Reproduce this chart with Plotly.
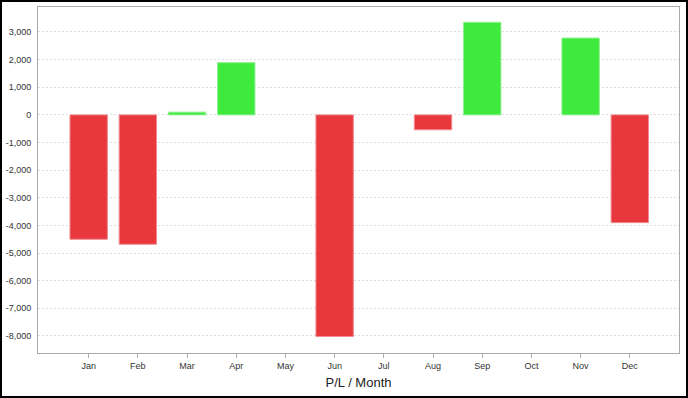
import plotly.graph_objects as go

months = ["Jan", "Feb", "Mar", "Apr", "May", "Jun", "Jul", "Aug", "Sep", "Oct", "Nov", "Dec"]
pl_values = [-4500, -4680, 100, 1890, None, -8020, None, -540, 3350, None, 2780, -3900]
y_tick_vals = [3000, 2000, 1000, 0, -1000, -2000, -3000, -4000, -5000, -6000, -7000, -8000]
y_tick_text = ["3,000", "2,000", "1,000", "0", "-1,000", "-2,000", "-3,000", "-4,000",
               "-5,000", "-6,000", "-7,000", "-8,000"]

RED = "#E8383D"
GREEN = "#3DEA3D"
colors = [GREEN if (v or 0) > 0 else RED for v in pl_values]
line_colors = ["#8FF08F" if (v or 0) > 0 else "#F08A8E" for v in pl_values]

W, H = 688, 398
ml, mr, mt, mb = 38, 9, 7, 45
pw, ph = W - ml - mr, H - mt - mb

fig = go.Figure(go.Bar(
    x=list(range(len(months))), y=pl_values,
    marker=dict(color=colors, line=dict(color=line_colors, width=1)),
    width=0.76,
    hoverinfo="skip",
))

fig.update_layout(
    width=W, height=H,
    margin=dict(l=ml, r=mr, t=mt, b=mb, pad=0),
    paper_bgcolor="white", plot_bgcolor="white",
    font=dict(family="Liberation Sans, Arial, sans-serif", color="#333"),
    showlegend=False,
)
fig.update_xaxes(
    range=[-1.03, 12.0],
    tickmode="array", tickvals=list(range(len(months))), ticktext=months,
    ticks="outside", ticklen=4, tickcolor="#aaa", tickfont=dict(size=9, color="#333"),
    showgrid=False, zeroline=False,
    showline=True, linecolor="#aaa", linewidth=1, mirror=True,
    title=dict(text="P/L / Month", font=dict(size=13, color="#222"), standoff=8),
)
fig.update_yaxes(
    range=[-8616, 3904],
    tickmode="array", tickvals=y_tick_vals, ticktext=y_tick_text,
    ticks="", tickfont=dict(size=9, color="#333"), ticklabelstandoff=4,
    showgrid=True, gridcolor="#dddddd", griddash="2px,2px", gridwidth=1,
    zeroline=False,
    showline=True, linecolor="#aaa", linewidth=1, mirror=True,
)
# outer black frame around the whole figure
fig.add_shape(
    type="rect", xref="paper", yref="paper",
    x0=-(ml - 1) / pw, x1=1 + (mr - 1) / pw,
    y0=-(mb - 1) / ph, y1=1 + (mt - 1) / ph,
    line=dict(color="black", width=2), fillcolor="rgba(0,0,0,0)", layer="above",
)

fig.write_html(
    "out.html",
    config={"displayModeBar": False},
    post_script="document.body.style.margin='0';document.body.style.padding='0';",
)
